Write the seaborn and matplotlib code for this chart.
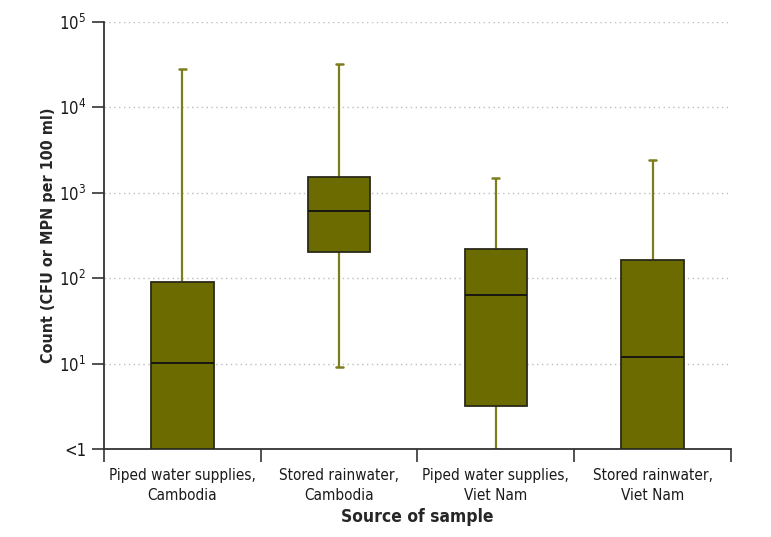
import numpy as np
import pandas as pd
import matplotlib
matplotlib.use("Agg")
import matplotlib.pyplot as plt
from matplotlib import font_manager
import seaborn as sns

# box statistics: whisker low, Q1, median, Q3, whisker high
categories = ["Piped water supplies,\nCambodia", "Stored rainwater,\nCambodia",
              "Piped water supplies,\nViet Nam", "Stored rainwater,\nViet Nam"]
whisker_low = [1, 9, 1, 1]
q1 = [1, 204, 3.2, 1]
median = [10.2, 610, 63, 11.8]
q3 = [91, 1530, 220, 164]
whisker_high = [28000, 32000, 1500, 2450]

ytick_vals = [1, 10, 100, 1000, 10000, 100000]
ytick_labels = ["<1", "$10^1$", "$10^2$", "$10^3$", "$10^4$", "$10^5$"]

sns.set_style("white")
names = {f.name for f in font_manager.fontManager.ttflist}
if "Liberation Sans Narrow" in names:
    font = "Liberation Sans Narrow"
    plt.rcParams["font.family"] = [font, "DejaVu Sans"]
else:
    font = "DejaVu Sans"
    plt.rcParams["font.family"] = ["DejaVu Sans"]
    plt.rcParams["font.stretch"] = "condensed"
plt.rcParams["mathtext.fontset"] = "custom"
plt.rcParams["mathtext.rm"] = font
plt.rcParams["mathtext.it"] = font
plt.rcParams["mathtext.bf"] = font + ":bold"
plt.rcParams["text.color"] = "#1a1a1a"

# five points per group so the quartiles land exactly on the read values
rows = []
for i, cat in enumerate(categories):
    for v in (whisker_low[i], q1[i], median[i], q3[i], whisker_high[i]):
        rows.append({"source": cat, "count": v})
df = pd.DataFrame(rows)

olive = "#6b6b00"
fig = plt.figure(figsize=(7.71, 5.37), dpi=100)
ax = fig.add_axes([0.135, 0.164, 0.813, 0.795])

for y in ytick_vals[1:]:
    ax.axhline(y, color="#bdbdbd", lw=1, ls=(0, (1, 2.5)), zorder=0)

sns.boxplot(data=df, x="source", y="count", order=categories, ax=ax,
            width=0.4, whis=(0, 100), log_scale=True, color=olive, saturation=1,
            linecolor="#2a2a1a", linewidth=1.3, fill=True,
            boxprops=dict(facecolor=olive, edgecolor="#2a2a1a", zorder=3),
            whiskerprops=dict(color="#7d7d1e", lw=1.6),
            capprops=dict(color="#7d7d1e", lw=1.8),
            medianprops=dict(color="#111111", lw=1.3, zorder=5),
            capwidths=0.045)

ax.set_ylim(1, 100000)
ax.set_xlim(-0.5, 3.5)
ax.set_yticks(ytick_vals)
ax.set_yticklabels(ytick_labels)
ax.yaxis.set_minor_locator(matplotlib.ticker.NullLocator())

ax.set_xticks(np.arange(-0.5, 4, 1))
ax.set_xticklabels([])
ax.set_xticks(np.arange(4), minor=True)
ax.set_xticklabels(categories, minor=True, fontsize=11, linespacing=1.35)
ax.tick_params(axis="x", which="major", bottom=True, length=9, width=1.2,
               color="#333333", direction="out")
ax.tick_params(axis="x", which="minor", bottom=True, length=0, pad=14, labelcolor="#1a1a1a")
ax.tick_params(axis="y", which="major", left=True, length=9, width=1.2, color="#333333",
               direction="out", labelsize=12, pad=4, labelcolor="#1a1a1a")

for s in ("top", "right"):
    ax.spines[s].set_visible(False)
for s in ("left", "bottom"):
    ax.spines[s].set_color("#333333")
    ax.spines[s].set_linewidth(1.3)

ax.set_xlabel("Source of sample", fontsize=12.5, fontweight="bold", labelpad=4)
ax.set_ylabel("Count (CFU or MPN per 100 ml)", fontsize=11.5, fontweight="bold", labelpad=2)

fig.savefig("out.png", dpi=100)
